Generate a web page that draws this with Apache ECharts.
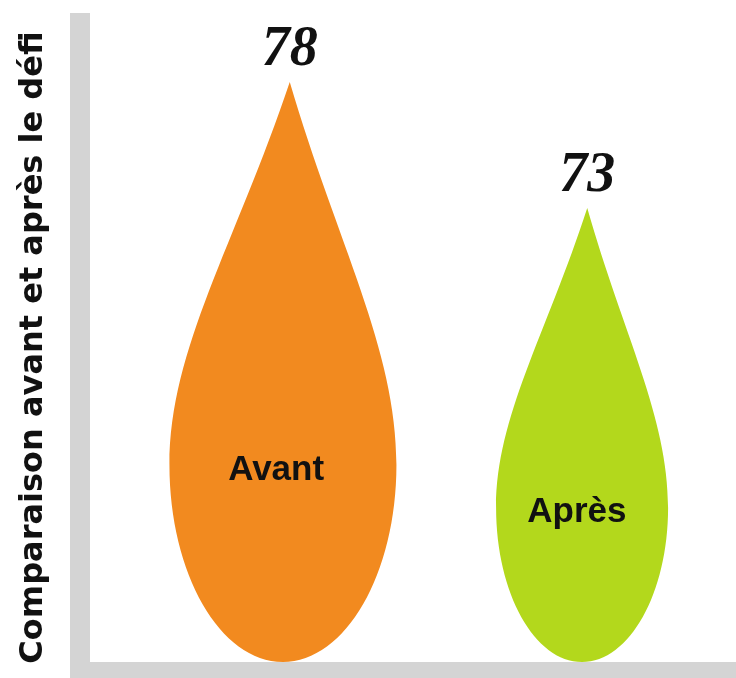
<!DOCTYPE html>
<html>
<head>
<meta charset="utf-8">
<script src="https://cdn.jsdelivr.net/npm/echarts@6/dist/echarts.min.js"></script>
<style>
  html, body { margin: 0; padding: 0; background: #fff; }
  #main { width: 736px; height: 678px; }
</style>
</head>
<body>
<div id="main"></div>
<script>
const categories = ["Avant", "Après"];
const scores = [78, 73];
const axisTitle = "Comparaison avant et après le défi";

// value axis range (hidden)
const yMin = 55;
const yMax = 80;

// drop look
const dropColors = ["#f28a1f", "#b3d81c"];
const dropWidths = [227, 172];
const dropPath =
  "M53 0 C74 28 100 46 100 66 C100 84.8 77.6 100 50 100 C22.4 100 0 84.8 0 66 C0 46 29 28 53 0 Z";
const frameGrey = "#d4d4d4";

const chart = echarts.init(document.getElementById("main"));

function renderDrop(params, api) {
  const i = params.dataIndex;
  const tip = api.coord([api.value(0), api.value(1)]);
  const base = api.coord([api.value(0), yMin]);
  const h = base[1] - tip[1];
  const w = dropWidths[i];
  const left = tip[0] - w * 0.53;
  return {
    type: "group",
    children: [
      {
        type: "path",
        shape: { pathData: dropPath, x: left, y: tip[1], width: w, height: h, layout: "cover" },
        style: { fill: dropColors[i] },
      },
      {
        type: "text",
        style: {
          text: String(api.value(1)),
          x: tip[0],
          y: tip[1] - 4,
          align: "center",
          verticalAlign: "bottom",
          font: "italic bold 56px 'Liberation Serif'",
          fill: "#111",
        },
      },
      {
        type: "text",
        style: {
          text: categories[i],
          x: left + w * 0.47,
          y: tip[1] + h * 0.67,
          align: "center",
          verticalAlign: "middle",
          font: "bold 35px 'Liberation Sans'",
          fill: "#111",
        },
      },
    ],
  };
}

const option = {
  animation: false,
  grid: [
    // grid for the drops
    { left: 141, width: 604, top: 31.6, bottom: 16 },
    // grid only used to draw the thick grey frame
    { left: 80, right: 0, top: 23, bottom: 6 },
  ],
  xAxis: [
    { type: "category", gridIndex: 0, data: categories, show: false },
    {
      type: "value",
      gridIndex: 1,
      axisLine: { show: true, lineStyle: { color: frameGrey, width: 20, cap: "square" } },
      axisTick: { show: false },
      axisLabel: { show: false },
      splitLine: { show: false },
    },
  ],
  yAxis: [
    { type: "value", gridIndex: 0, min: yMin, max: yMax, show: false },
    {
      type: "value",
      gridIndex: 1,
      name: axisTitle,
      nameLocation: "middle",
      nameRotate: 90,
      nameGap: 30,
      nameTextStyle: {
        fontFamily: "DejaVu Sans",
        fontWeight: "bold",
        fontSize: 32,
        color: "#111",
      },
      axisLine: { show: true, lineStyle: { color: frameGrey, width: 20, cap: "square" } },
      axisTick: { show: false },
      axisLabel: { show: false },
      splitLine: { show: false },
    },
  ],
  series: [
    {
      type: "custom",
      xAxisIndex: 0,
      yAxisIndex: 0,
      renderItem: renderDrop,
      data: categories.map((c, i) => [c, scores[i]]),
      z: 2,
    },
  ],
};

chart.setOption(option);
</script>
</body>
</html>
